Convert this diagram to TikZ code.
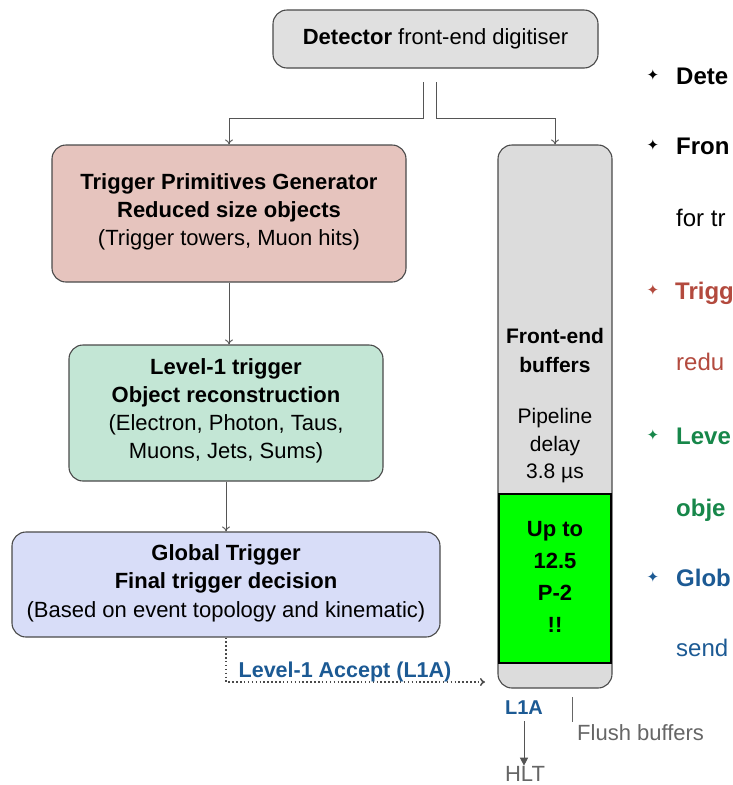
\documentclass[tikz,border=0pt]{standalone}
\usepackage{fontspec}
\setmainfont{Liberation Sans}
\newfontfamily\symfont{DejaVu Sans}
\usetikzlibrary{arrows.meta,calc}
\definecolor{boxline}{HTML}{4A4A4A}
\definecolor{detfill}{HTML}{E0E0E0}
\definecolor{tpgfill}{HTML}{E6C4BE}
\definecolor{lonefill}{HTML}{C3E6D5}
\definecolor{gtfill}{HTML}{D8DDF8}
\definecolor{buffill}{HTML}{DCDCDC}
\definecolor{greenfill}{HTML}{00FF00}
\definecolor{txtred}{HTML}{B34A3E}
\definecolor{txtgreen}{HTML}{17874A}
\definecolor{txtblue}{HTML}{1C5A94}
\definecolor{txtgray}{HTML}{666666}
\definecolor{arrgray}{HTML}{555555}
\tikzset{
  roundbox/.style={draw=boxline, line width=1.1pt, rounded corners=14pt, align=center, inner sep=0pt,
    font=\fontsize{22}{28.5}\selectfont},
  conn/.style={draw=arrgray, line width=0.9pt, -{To[length=5pt,width=8pt]}},
  txt/.style={inner sep=0pt, font=\fontsize{22}{28}\selectfont},
  bullettxt/.style={inner sep=0pt, anchor=base west, font=\fontsize{24}{28}\selectfont},
  bulletstar/.style={inner sep=0pt, font=\symfont\fontsize{15}{15}\selectfont},
}
\begin{document}
\begin{tikzpicture}[x=1pt,y=-1pt]
\useasboundingbox (0,0) rectangle (733,785);
\fill[white] (0,0) rectangle (733,785);

% boxes
\node[roundbox, fill=detfill, minimum width=325pt, minimum height=58pt] (det) at (435.5,39)
  {\textbf{Detector} front-end digitiser};
\node[roundbox, fill=tpgfill, minimum width=354pt, minimum height=137pt] (tpg) at (229,213.5) {};
\node[txt, align=center, font=\fontsize{22}{28}\selectfont] (tpgtxt) at (229,212)
  {\textbf{Trigger Primitives Generator}\\\textbf{Reduced size objects}\\(Trigger towers, Muon hits)};
\node[roundbox, fill=lonefill, minimum width=314pt, minimum height=136pt] (l1) at (226,413) {};
\node[txt, align=center, font=\fontsize{22}{28}\selectfont] (l1txt) at (226,411)
  {\textbf{Level-1 trigger}\\\textbf{Object reconstruction}\\(Electron, Photon, Taus,\\Muons, Jets, Sums)};
\node[roundbox, fill=gtfill, minimum width=428pt, minimum height=105pt] (gt) at (226,584.5) {};
\node[txt, align=center, font=\fontsize{22}{28.5}\selectfont] (gttxt) at (226,583)
  {\textbf{Global Trigger}\\\textbf{Final trigger decision}\\(Based on event topology and kinematic)};

% buffer column
\node[roundbox, fill=buffill, minimum width=114pt, minimum height=543pt] (buf) at (555,416.5) {};
\node[draw=black, line width=1.5pt, fill=greenfill, minimum width=112pt, minimum height=169pt, inner sep=0pt] (grn) at (555,578.5) {};
\node[txt, align=center, font=\fontsize{21}{29}\bfseries\selectfont] (fe) at (555,350) {Front-end\\buffers};
\node[txt, align=center, font=\fontsize{21}{27.5}\selectfont] (pipe) at (555,446) {Pipeline\\delay\\3.8 µs};
\node[txt, align=center, font=\fontsize{22}{32}\bfseries\selectfont] (upto) at (555,577) {Up to\\12.5\\P-2\\!!};

% connectors from detector
\coordinate (s1) at (423,82);
\coordinate (s2) at (436,82);
\draw[conn] (s1) -- (423,118) -| (tpg.north);
\draw[conn] (s2) -- (436,118) -| (buf.north);
\draw[conn] (tpg.south) -- (tpg.south |- l1.north);
\draw[conn] (l1.south) -- (l1.south |- gt.north);

% Level-1 accept
\coordinate (l1aend) at (485,682);
\draw[draw=boxline, line width=1.5pt, dash pattern=on 1.5pt off 2.4pt, -{To[length=5pt,width=8pt]}] (gt.south) |- (l1aend);
\node[txt, anchor=base, text=txtblue, font=\fontsize{21.5}{24}\bfseries\selectfont] (acc) at (345,677) {Level-1 Accept (L1A)};

% below buffer
\node[txt, anchor=base, text=txtblue, font=\fontsize{20}{24}\bfseries\selectfont] (l1a) at (524,714) {L1A};
\node[txt, anchor=base, text=txtgray] (hlt) at (525,781) {HLT};
\draw[draw=arrgray, line width=1pt, -{Triangle[length=8pt,width=8pt]}] (l1a.south) ++(0,7) coordinate (hs) -- (hs |- hlt.north);
\coordinate (f1) at (572,697);
\coordinate (f2) at (572,722);
\draw[draw=txtgray, line width=1pt] (f1) -- (f2);
\node[txt, anchor=base west, text=txtgray] (flush) at (577,740) {Flush buffers};

% right-hand bullets (cut by the picture edge, as in the reference)
\begin{scope}
\clip (0,0) rectangle (733,785);
\node[bulletstar] (b1) at (653,75) {✦};
\node[bullettxt] (t1) at (676,84) {\textbf{Dete}};
\node[bulletstar] (b2) at (653,145) {✦};
\node[bullettxt] (t2) at (676,154) {\textbf{Fron}};
\node[bullettxt] (t3) at (676,226) {for tr};
\node[bulletstar, text=txtred] (b4) at (653,290) {✦};
\node[bullettxt, text=txtred] (t4) at (675,299) {\textbf{Trigg}};
\node[bullettxt, text=txtred] (t5) at (676,370) {redu};
\node[bulletstar, text=txtgreen] (b6) at (653,435) {✦};
\node[bullettxt, text=txtgreen] (t6) at (676,444) {\textbf{Leve}};
\node[bullettxt, text=txtgreen] (t7) at (676,516) {\textbf{obje}};
\node[bulletstar, text=txtblue] (b8) at (653,577) {✦};
\node[bullettxt, text=txtblue] (t8) at (676,586) {\textbf{Glob}};
\node[bullettxt, text=txtblue] (t9) at (676,656) {send};
\end{scope}
\end{tikzpicture}
\end{document}
